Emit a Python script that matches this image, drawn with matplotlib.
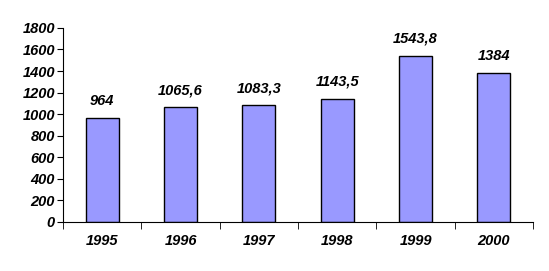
import matplotlib.pyplot as plt

# Data
years = ["1995", "1996", "1997", "1998", "1999", "2000"]
values = [964, 1065.6, 1083.3, 1143.5, 1543.8, 1384]
labels = ["964", "1065,6", "1083,3", "1143,5", "1543,8", "1384"]

plt.rcParams['font.family'] = ['Liberation Sans', 'DejaVu Sans']
font = dict(fontsize=10.5, fontweight='bold', fontstyle='italic')

fig, ax = plt.subplots(figsize=(5.49, 2.71), dpi=100)
fig.subplots_adjust(left=0.115, right=0.971, top=0.897, bottom=0.181)

x = range(len(years))
ax.bar(x, values, width=0.42, color='#9999ff', edgecolor='black', linewidth=1)

for i, (v, t) in enumerate(zip(values, labels)):
    ax.annotate(t, (i, v), xytext=(0, 7), textcoords='offset points',
                ha='center', va='bottom', **font)

ax.set_xlim(-0.5, len(years) - 0.5)
ax.set_ylim(0, 1800)
ax.set_yticks(range(0, 1801, 200))
ax.set_yticklabels([str(t) for t in range(0, 1801, 200)], **font)

# category labels centered, tick marks between categories
ax.set_xticks(list(x))
ax.set_xticklabels(years, **font)
ax.tick_params(axis='x', length=0, pad=9)
ax.set_xticks([i + 0.5 for i in range(-1, len(years))], minor=True)
ax.tick_params(axis='x', which='minor', length=5, direction='out')
ax.tick_params(axis='y', length=4, direction='out', pad=2)

for s in ['top', 'right']:
    ax.spines[s].set_visible(False)

plt.savefig("out.png", dpi=100)
